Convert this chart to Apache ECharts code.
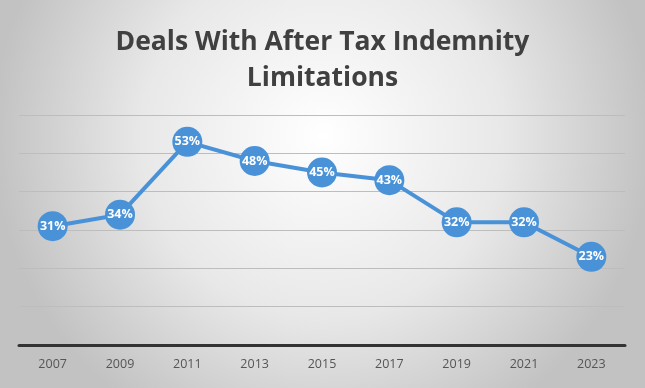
<!DOCTYPE html>
<html><head><meta charset="utf-8">
<script src="https://cdn.jsdelivr.net/npm/echarts@6/dist/echarts.min.js"></script>
<style>html,body{margin:0;padding:0;}#c{width:645px;height:388px;}</style>
</head><body><div id="c"></div>
<script>
const years = ['2007','2009','2011','2013','2015','2017','2019','2021','2023'];
const pct = [31,34,53,48,45,43,32,32,23];
const chart = echarts.init(document.getElementById('c'));
chart.setOption({
  backgroundColor: {
    type:'radial', x:0.5, y:0.35, r:0.85,
    colorStops:[{offset:0,color:'#ffffff'},{offset:0.55,color:'#e8e8e8'},{offset:1,color:'#c2c2c2'}]
  },
  title: {
    text: 'Deals With After Tax Indemnity\nLimitations',
    left: 'center', top: 19,
    textStyle: {fontFamily:'Open Sans', fontWeight:'bold', fontSize:26.5, color:'#404040', lineHeight:36}
  },
  grid: {left:19, right:20, top:115, bottom:43},
  xAxis: {
    type:'category', data: years, boundaryGap:true,
    axisLine:{lineStyle:{color:'#333333', width:3}},
    axisTick:{show:false},
    axisLabel:{color:'#555555', fontSize:12.5, fontFamily:'Open Sans', margin:13}
  },
  yAxis: {
    type:'value', min:0, max:60, interval:10,
    axisLabel:{show:false}, axisLine:{show:false}, axisTick:{show:false},
    splitLine:{lineStyle:{color:'#bdbdbd', width:1}}
  },
  series: [{
    type:'line', data: pct,
    symbol:'circle', symbolSize:30,
    lineStyle:{color:'#4a92d8', width:4},
    itemStyle:{color:'#4a92d8'},
    label:{show:true, position:'inside', formatter: p => p.value + '%',
      color:'#ffffff', fontWeight:'bold', fontSize:12.5, fontFamily:'Open Sans'},
    z:3
  }]
});
</script></body></html>
